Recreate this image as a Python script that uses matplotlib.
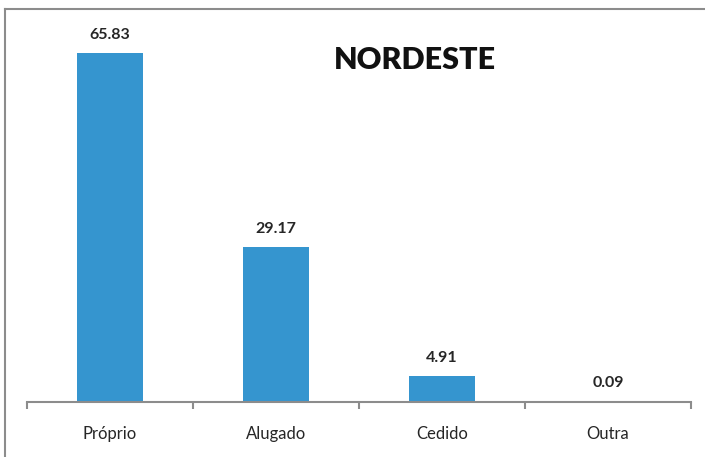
import matplotlib.pyplot as plt
from matplotlib.lines import Line2D

categories = ["Próprio", "Alugado", "Cedido", "Outra"]
values = [65.83, 29.17, 4.91, 0.09]
title = "NORDESTE"

plt.rcParams['font.family'] = ['Lato', 'DejaVu Sans']

fig = plt.figure(figsize=(7.05, 4.57), dpi=100)
ax = fig.add_axes([27 / 705, 1 - 402 / 457, (691 - 27) / 705, (402 - 31) / 457])

x = list(range(len(categories)))
bars = ax.bar(x, values, width=0.4, color="#3595CF")
ax.set_xlim(-0.5, len(categories) - 0.5)
ax.set_ylim(0, 70)

for xi, v in zip(x, values):
	ax.annotate("%.2f" % v, (xi, v), xytext=(0, 8), textcoords="offset points",
				ha="center", va="bottom", fontsize=11.5, fontweight="bold", color="#262626")

ax.set_xticks([i - 0.5 for i in range(len(categories) + 1)])
ax.set_xticklabels([])
ax.set_xticks(x, minor=True)
ax.set_xticklabels(categories, minor=True, fontsize=12, color="#262626")
ax.tick_params(axis="x", which="major", length=5, color="#8C8C8C", width=1.5, direction="out")
ax.tick_params(axis="x", which="minor", length=0, pad=17)
ax.set_yticks([])
for s in ["top", "right", "left"]:
	ax.spines[s].set_visible(False)
ax.spines["bottom"].set_color("#8C8C8C")
ax.spines["bottom"].set_linewidth(1.5)

fig.text(415 / 705, 1 - 60 / 457, title, ha="center", va="center",
		 fontsize=22, fontweight="heavy", color="#111111")

# outer frame
fig.add_artist(Line2D([5 / 705, 5 / 705], [0, 1 - 9 / 457], transform=fig.transFigure, color="#8C8C8C", lw=1.5))
fig.add_artist(Line2D([5 / 705, 1], [1 - 9 / 457, 1 - 9 / 457], transform=fig.transFigure, color="#8C8C8C", lw=1.5))

fig.savefig("out.png", dpi=100)
